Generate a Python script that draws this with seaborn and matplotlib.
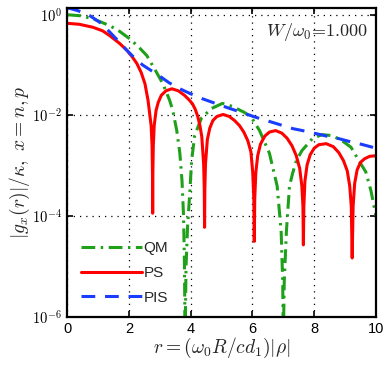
import matplotlib
matplotlib.use('Agg')
import matplotlib.pyplot as plt
import seaborn as sns
import numpy as np
import pandas as pd

# values, stored as log10 of the curve value
x_qm = [0.0, 0.42, 0.84, 1.39, 1.7, 2.03, 2.3, 2.58, 2.9, 3.1, 3.32, 3.42, 3.55, 3.65,
        3.72, 3.77, 3.80, 3.82, 3.85, 3.9, 3.97, 4.03, 4.13, 4.35, 4.68, 5.03, 5.35,
        5.74, 5.97, 6.23, 6.55, 6.8, 6.93, 6.98, 7.0, 7.03, 7.1, 7.2, 7.3, 7.42, 7.6,
        7.94, 8.25, 8.58, 8.9, 9.19, 9.45, 9.67, 9.84, 10.0]
lg_qm = [0.0, -0.02, -0.08, -0.22, -0.33, -0.48, -0.63, -0.81, -1.15, -1.37, -1.7, -1.9,
         -2.3, -2.75, -3.3, -4.0, -5.0, -6.5, -5.0, -4.2, -3.55, -2.9, -2.4, -2.05, -1.86,
         -1.76, -1.82, -1.94, -2.04, -2.3, -2.75, -3.4, -4.3, -5.3, -6.5, -5.3, -4.3, -3.4,
         -3.15, -2.9, -2.7, -2.46, -2.38, -2.4, -2.5, -2.63, -2.9, -3.12, -3.5, -4.0]

x_ps = [0.0, 0.4, 0.84, 1.15, 1.39, 1.7, 1.94, 2.1, 2.26, 2.4, 2.52, 2.62, 2.72, 2.75,
        2.765, 2.77, 2.775, 2.79, 2.82, 2.88, 2.95, 3.05, 3.2, 3.39, 3.6, 3.8, 3.95,
        4.06, 4.15, 4.23, 4.3, 4.36, 4.42, 4.44, 4.45, 4.46, 4.48, 4.54, 4.62, 4.72,
        4.85, 5.05, 5.25, 5.42, 5.58, 5.72, 5.85, 5.95, 6.01, 6.045, 6.06, 6.075, 6.11,
        6.17, 6.26, 6.4, 6.55, 6.75, 6.95, 7.12, 7.28, 7.42, 7.53, 7.6, 7.635, 7.65,
        7.665, 7.7, 7.77, 7.87, 8.0, 8.15, 8.39, 8.62, 8.8, 8.95, 9.07, 9.15, 9.2, 9.23,
        9.26, 9.31, 9.39, 9.5, 9.63, 9.8, 10.0]
lg_ps = [-0.17, -0.19, -0.25, -0.32, -0.42, -0.57, -0.71, -0.83, -0.97, -1.15, -1.37,
         -1.7, -2.2, -2.6, -3.2, -3.94, -3.2, -2.6, -2.2, -1.9, -1.74, -1.6, -1.51, -1.47,
         -1.51, -1.6, -1.69, -1.77, -1.88, -2.02, -2.2, -2.42, -2.96, -3.44, -4.22, -3.44,
         -2.96, -2.48, -2.25, -2.1, -2.02, -1.98, -2.02, -2.1, -2.2, -2.33, -2.5, -2.72,
         -3.13, -3.65, -4.5, -3.65, -3.13, -2.8, -2.57, -2.41, -2.33, -2.3, -2.35, -2.45,
         -2.6, -2.8, -3.05, -3.4, -3.8, -4.57, -3.8, -3.3, -2.98, -2.78, -2.65, -2.58,
         -2.56, -2.62, -2.74, -2.9, -3.1, -3.4, -3.8, -4.83, -3.8, -3.35, -3.08, -2.93,
         -2.86, -2.81, -2.8]

x_pis = [0.0, 0.35, 0.74, 1.1, 1.39, 1.7, 1.94, 2.2, 2.45, 2.7, 3.0, 3.3, 3.65, 4.0,
         4.39, 4.8, 5.26, 5.7, 6.13, 6.45, 6.77, 7.3, 7.7, 8.06, 8.4, 8.8, 9.1, 9.45,
         9.7, 10.0]
lg_pis = [0.14, 0.08, -0.02, -0.17, -0.35, -0.55, -0.71, -0.87, -1.0, -1.1, -1.22, -1.35,
          -1.47, -1.57, -1.67, -1.76, -1.86, -1.95, -2.04, -2.1, -2.16, -2.26, -2.31,
          -2.36, -2.41, -2.46, -2.51, -2.56, -2.6, -2.65]

sns.set_style('ticks')
plt.rcParams['font.family'] = ['Liberation Sans', 'DejaVu Sans']
plt.rcParams['mathtext.fontset'] = 'cm'
plt.rcParams['xtick.direction'] = 'in'
plt.rcParams['ytick.direction'] = 'in'

fig = plt.figure(figsize=(3.88, 3.72), dpi=100)
ax = fig.add_axes([0.173, 0.148, 0.796, 0.830])

qm = pd.DataFrame({'r': x_qm, 'g': np.power(10.0, lg_qm)})
ps = pd.DataFrame({'r': x_ps, 'g': np.power(10.0, lg_ps)})
pis = pd.DataFrame({'r': x_pis, 'g': np.power(10.0, lg_pis)})

sns.lineplot(data=qm, x='r', y='g', ax=ax, color='#1fa01a', lw=2.2,
             linestyle=(0, (4.5, 1.8, 0.8, 1.8)), label='QM', sort=False)
sns.lineplot(data=ps, x='r', y='g', ax=ax, color='#ff0000', lw=2.2,
             label='PS', sort=False)
sns.lineplot(data=pis, x='r', y='g', ax=ax, color='#1a3cff', lw=2.2,
             linestyle=(0, (4.5, 3.2)), label='PIS', sort=False)

ax.set_yscale('log')
ax.set_xlim(0, 10)
ax.set_ylim(1e-6, 10 ** 0.13)
ax.set_xticks([0, 2, 4, 6, 8, 10])
ax.set_yticks([1e-6, 1e-4, 1e-2, 1e0])
ax.set_yticklabels([r'$\mathsf{10^{-6}}$', r'$\mathsf{10^{-4}}$',
                    r'$\mathsf{10^{-2}}$', r'$\mathsf{10^{0}}$'])
ax.minorticks_off()
ax.tick_params(axis='both', which='major', labelsize=10.5, length=4, width=1.2,
               top=True, right=True, colors='black')
ax.grid(True, color='black', linestyle=(0, (1, 4)), linewidth=0.9)
for sp in ax.spines.values():
    sp.set_visible(True)
    sp.set_linewidth(1.6)
    sp.set_color('black')

ax.set_xlabel(r'$r=(\omega_0 R/c d_1)|\rho|$', fontsize=14, labelpad=0)
ax.set_ylabel(r'$|g_x(r)|/\kappa,\ x=n,p$', fontsize=14, labelpad=0)

ax.text(0.975, 0.922, r'$W/\omega_0\!=\!1.000$', transform=ax.transAxes,
        ha='right', va='center', fontsize=13)

ax.legend(loc='lower left', bbox_to_anchor=(0.0, -0.005), frameon=False,
          fontsize=11, handlelength=4.0, handletextpad=0.1, labelspacing=0.7)

fig.savefig('out.png', dpi=100)
